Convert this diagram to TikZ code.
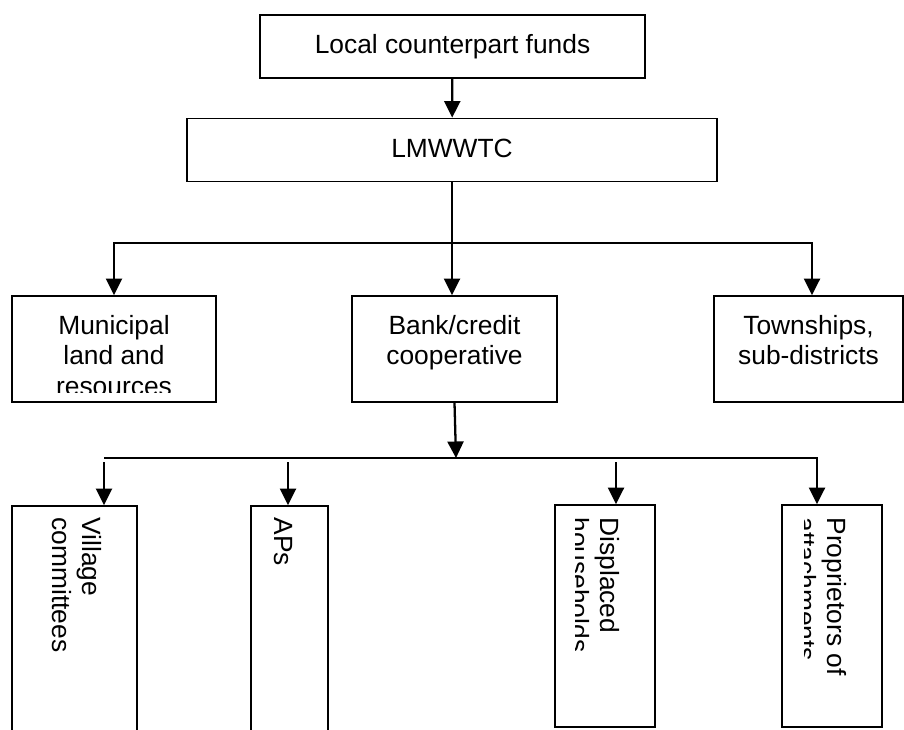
\documentclass[tikz,border=0pt]{standalone}
\usepackage{fontspec}
\setmainfont{Liberation Sans}
\usepackage{tikz}
\usetikzlibrary{arrows.meta,positioning}
\tikzset{
  fc diagram/.style={font=\fontsize{15}{17.25}\selectfont, line join=miter},
  fc box/.style={draw, line width=1pt, inner sep=0pt},
  fc arrow/.style={-{Triangle[length=0.33cm, width=0.32cm]}, line width=1.3pt},
  fc label/.style={align=center, inner sep=0pt},
  fc vlabel/.style={align=left, inner sep=0pt, rotate=-90, anchor=north west}
}

\begin{document}
\begin{tikzpicture}[fc diagram]
\clip (0,0) rectangle (18.08,-14.58);
% funds and company
\node[fc box, minimum width=7.7cm, minimum height=1.26cm] (funds) at (9.05,-0.93) {};
\node[fc label, below=0.4cm of funds.north] (fundsT) {Local counterpart funds};
\node[fc box, minimum width=10.6cm, minimum height=1.26cm] (lmw) at (9.04,-3.0) {};
\node[fc label, below=0.42cm of lmw.north] (lmwT) {LMWWTC};

% second level
\node[fc box, minimum width=4.08cm, minimum height=2.12cm] (muni) at (2.28,-6.98) {};
\node[fc box, minimum width=4.1cm, minimum height=2.12cm] (bank) at (9.09,-6.98) {};
\node[fc box, minimum width=3.78cm, minimum height=2.12cm] (tow) at (16.17,-6.98) {};
\begin{scope}
  \clip (muni.north west) rectangle ([yshift=0.2cm]muni.south east);
  \node[fc label, below=0.4cm of muni.north] (muniT) {Municipal\\land and\\resources};
\end{scope}
\node[fc label, below=0.4cm of bank.north] (bankT) {Bank/credit\\cooperative};
\node[fc label, below=0.4cm of tow.north] (towT) {Townships,\\sub-districts};

% third level
\node[fc box, minimum width=2.5cm, minimum height=4.58cm] (vill) at (1.49,-12.41) {};
\node[fc box, minimum width=1.54cm, minimum height=4.58cm] (aps) at (5.79,-12.41) {};
\node[fc box, minimum width=2.0cm, minimum height=4.44cm] (disp) at (12.1,-12.32) {};
\node[fc box, minimum width=2.0cm, minimum height=4.44cm] (prop) at (16.64,-12.32) {};
\node[fc vlabel] (villT) at ([xshift=-0.72cm, yshift=-0.24cm]vill.north east) {Village\\committees};
\node[fc vlabel] (apsT) at ([xshift=-0.72cm, yshift=-0.24cm]aps.north east) {APs};
\begin{scope}
  \clip (11.5,-10.1) rectangle (disp.north east |- disp.south);
  \node[fc vlabel] (dispT) at ([xshift=-0.72cm, yshift=-0.26cm]disp.north east) {Displaced\\households};
\end{scope}
\begin{scope}
  \clip (16.08,-10.1) rectangle (prop.north east |- prop.south);
  \node[fc vlabel] (propT) at ([xshift=-0.72cm, yshift=-0.26cm]prop.north east) {Proprietors of\\attachments};
\end{scope}

% connectors
\coordinate (busA) at (9.04,-4.86);
\coordinate (busB) at (9.12,-9.16);
\coordinate (busBL) at (2.08,-9.16);
\coordinate (busBR) at (16.34,-9.16);
\coordinate (villIn) at (2.08,-9.24);
\coordinate (apsIn) at (5.76,-9.24);
\coordinate (dispIn) at (12.32,-9.24);
\draw[fc arrow] (funds) -- (lmw);
\draw[fc arrow] (lmw.south) -- (lmw.south |- bank.north);
\draw[fc arrow] (busA) -| (muni.north);
\draw[fc arrow] (busA) -| ([xshift=0.07cm]tow.north);
\draw[fc arrow] (bank.south) -- (busB);
\draw[fc arrow] (busBL) -- (busBR) -- (busBR |- prop.north);
\draw[fc arrow] (villIn) -- (villIn |- vill.north);
\draw[fc arrow] (apsIn) -- (apsIn |- aps.north);
\draw[fc arrow] (dispIn) -- (dispIn |- disp.north);
\end{tikzpicture}
\end{document}
